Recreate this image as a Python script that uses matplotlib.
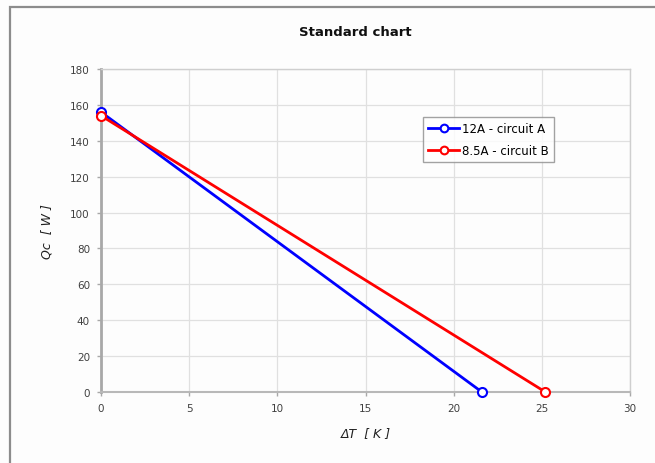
import matplotlib
matplotlib.use("Agg")
import matplotlib.pyplot as plt
from matplotlib.patches import Rectangle

series_names = ["12A - circuit A", "8.5A - circuit B"]
dT_A = [0.0, 21.6]
Qc_A = [156.0, 0.0]
dT_B = [0.0, 25.2]
Qc_B = [154.0, 0.0]
colors = ["#0000ff", "#ff0000"]
xticks = [0, 5, 10, 15, 20, 25, 30]
yticks = [0, 20, 40, 60, 80, 100, 120, 140, 160, 180]

W, H = 655, 464
fig = plt.figure(figsize=(W / 100, H / 100), dpi=100)
fig.patch.set_facecolor("#fdfdfd")

# outer chart frame (cropped at right/bottom)
fig.patches.append(Rectangle((10 / W, -0.05), 1.2, 1 - 8 / H + 0.05,
                             transform=fig.transFigure, fill=False,
                             edgecolor="#8c8c8c", lw=1.6, zorder=0))

ax = fig.add_axes([101 / W, 1 - 393 / H, (630 - 101) / W, (393 - 70) / H])
ax.set_facecolor("#fdfdfd")

ax.plot(dT_A, Qc_A, color=colors[0], lw=2, marker="o", ms=6.5,
        mfc="white", mec=colors[0], mew=1.5, label=series_names[0],
        zorder=3, clip_on=False)
ax.plot(dT_B, Qc_B, color=colors[1], lw=2, marker="o", ms=6.5,
        mfc="white", mec=colors[1], mew=1.5, label=series_names[1],
        zorder=3, clip_on=False)

ax.set_xlim(0, 30)
ax.set_ylim(0, 180)
ax.set_xticks(xticks)
ax.set_yticks(yticks)
ax.grid(True, color="#e0e0e0", lw=0.9)
ax.set_axisbelow(True)

for s in ["top", "right"]:
    ax.spines[s].set_color("#cfcfcf")
    ax.spines[s].set_linewidth(1.0)
ax.spines["left"].set_color("#a8a8a8")
ax.spines["left"].set_linewidth(2.0)
ax.spines["bottom"].set_color("#b8b8b8")
ax.spines["bottom"].set_linewidth(1.5)

ax.tick_params(axis="both", direction="out", length=3, width=1,
               color="#a8a8a8", labelsize=7.5, labelcolor="#404040", pad=5)

ax.set_xlabel("ΔT  [ K ]", fontsize=9, style="italic", color="#202020", labelpad=9)
ax.set_ylabel("Qc  [ W ]", fontsize=9, style="italic", color="#202020", labelpad=12)

fig.text(355 / W, 1 - 32 / H, "Standard chart", ha="center", va="center",
         fontsize=9.5, fontweight="bold", color="#101010")

leg = ax.legend(loc="upper left", bbox_to_anchor=((423 - 101) / (630 - 101), (393 - 118) / (393 - 70)),
                fontsize=8.5, frameon=True, fancybox=False, shadow=False,
                edgecolor="#8c8c8c", handlelength=2.6, handletextpad=0.25,
                borderpad=0.45, labelspacing=0.75, borderaxespad=0,
                markerscale=0.85)
leg.get_frame().set_linewidth(1.0)
leg.get_frame().set_facecolor("white")

fig.savefig("out.png", dpi=100, facecolor=fig.get_facecolor())
